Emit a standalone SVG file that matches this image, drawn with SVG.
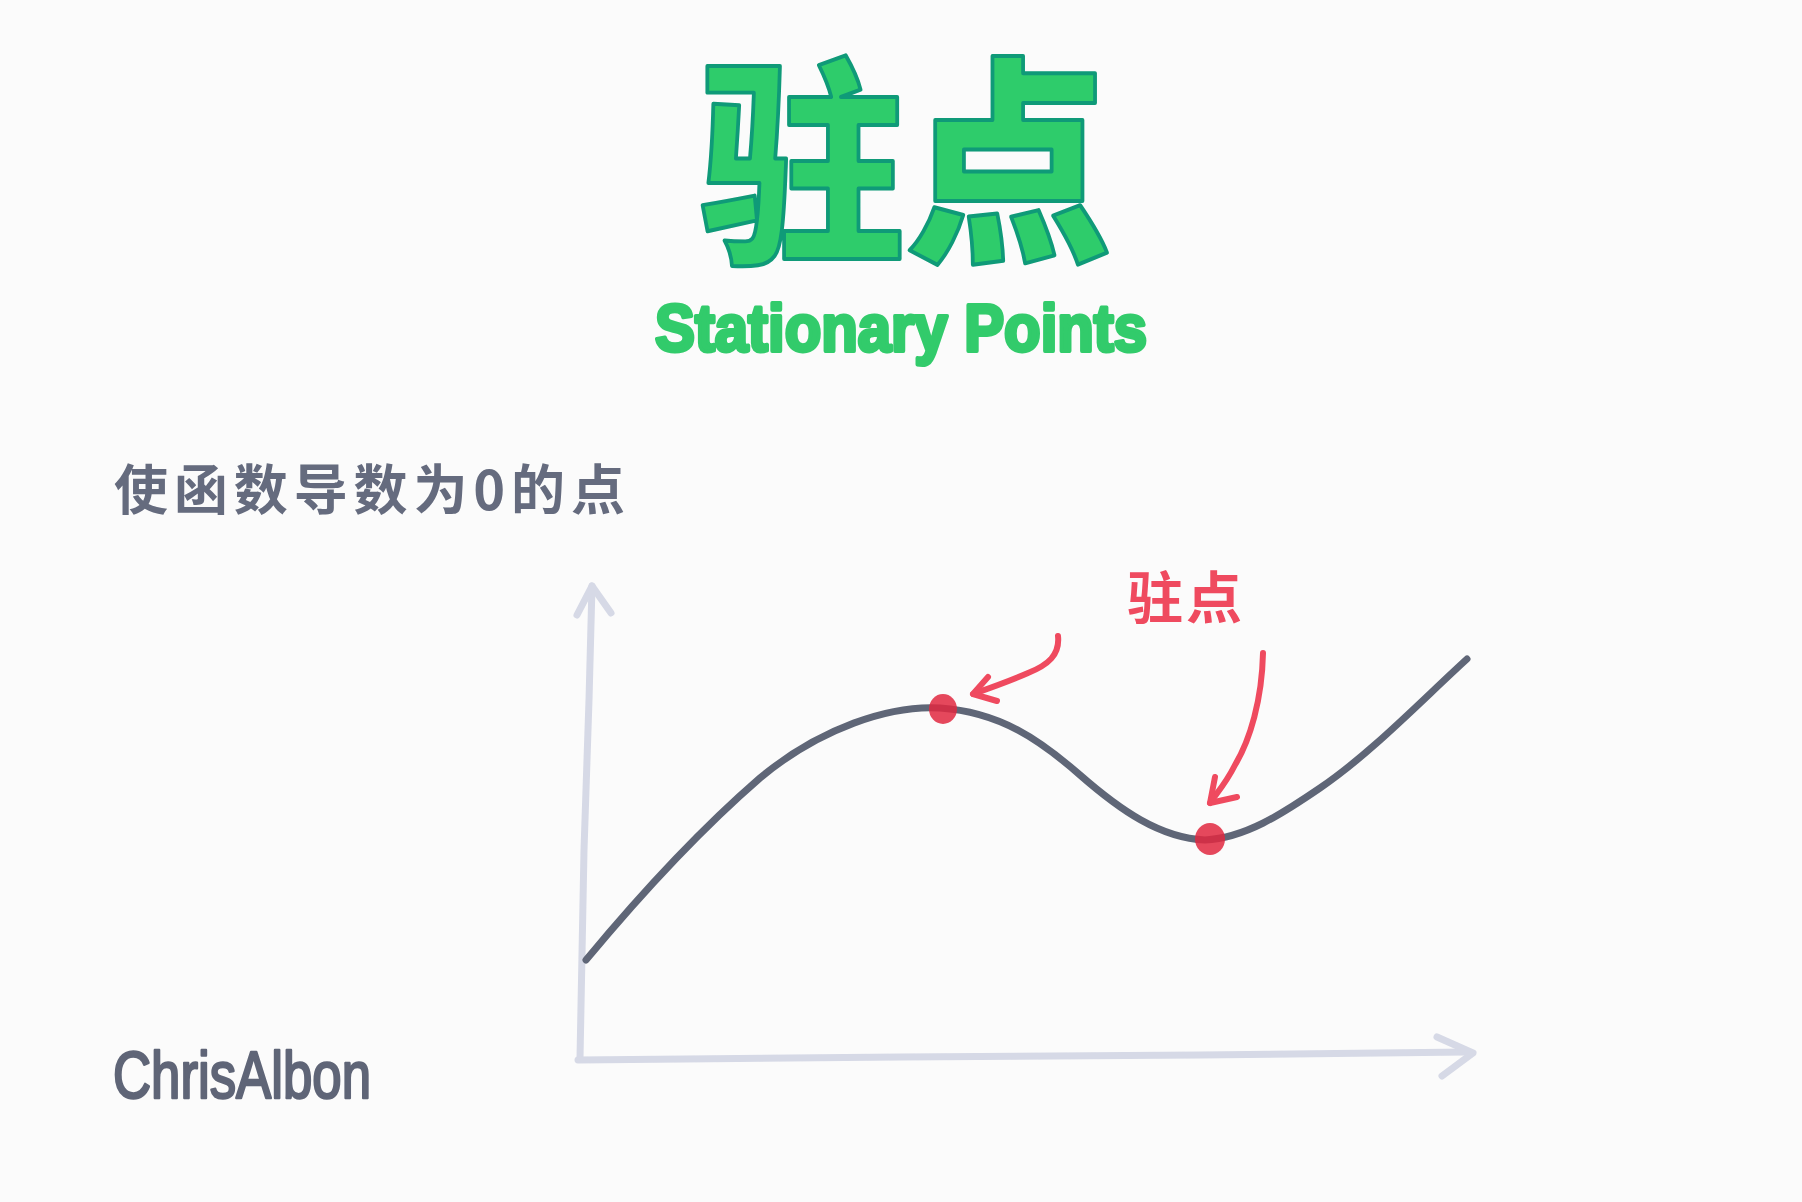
<svg xmlns="http://www.w3.org/2000/svg" width="1802" height="1202" viewBox="0 0 1802 1202">
<style>
.title{font-family:"Liberation Sans","Noto Sans CJK SC",sans-serif;font-weight:900;fill:#2ecc6b;stroke:#0f9a78;stroke-width:4;stroke-linejoin:round}
.sub{font-family:"Liberation Sans",Arial,sans-serif;font-weight:bold;fill:#32cb6b;stroke:#32cb6b;stroke-width:4;stroke-linejoin:round}
.desc{font-family:"Noto Sans CJK SC",sans-serif;font-weight:bold;fill:#656b7e}
.red{font-family:"Noto Sans CJK SC",sans-serif;font-weight:bold;fill:#ef4a5f}
.sig{font-family:"Liberation Sans",Arial,sans-serif;fill:#5f6577;stroke:#5f6577;stroke-width:2.5;stroke-linejoin:round}
.axis{fill:none;stroke:#d6d9e6;stroke-width:7;stroke-linecap:round;stroke-linejoin:round}
.curve{fill:none;stroke:#5f6677;stroke-width:7;stroke-linecap:round;stroke-linejoin:round}
.arrow{fill:none;stroke:#ef4a5f;stroke-width:6;stroke-linecap:round;stroke-linejoin:round}
.dot{fill:#e0283f;opacity:0.85}
</style>
<rect width="1802" height="1202" fill="#fbfbfb"/>
<g id="title"><text class="title" transform="translate(905,245) scale(0.94,1)" x="0" y="0" font-size="220" text-anchor="middle">驻点</text></g>
<g id="subtitle"><text class="sub" x="655" y="351" font-size="66" textLength="492" lengthAdjust="spacingAndGlyphs">Stationary Points</text></g>
<g id="description"><text class="desc" x="114" y="510" font-size="54" textLength="511" lengthAdjust="spacing">使函数导数为0的点</text></g>
<g id="label"><text class="red" x="1127" y="618" font-size="56" textLength="115" lengthAdjust="spacing">驻点</text></g>
<g id="signature"><text class="sig" x="113" y="1098" font-size="66" textLength="258" lengthAdjust="spacingAndGlyphs">ChrisAlbon</text></g>
<g id="axes">
<path class="axis" d="M592,586 L589,700 L584,850 L580,1058"/>
<path class="axis" d="M577,615 L592,586 L611,613"/>
<path class="axis" d="M578,1060 L900,1057 L1200,1055 L1467,1052"/>
<path class="axis" d="M1437,1037 L1473,1053 L1442,1076"/>
</g>
<g id="curve">
<path class="curve" d="M586,960 C640,895 700,830 760,778 C820,728 890,705 940,708 C1000,712 1040,740 1080,775 C1120,810 1160,838 1205,840 C1245,838 1282,814 1320,788 C1370,754 1420,702 1467,659"/>
</g>
<g id="points">
<ellipse class="dot" cx="943" cy="709" rx="14" ry="15"/>
<ellipse class="dot" cx="1210" cy="839" rx="15" ry="16"/>
</g>
<g id="connectors">
<path class="arrow" d="M1058,636 C1060,655 1048,665 1028,673 C1010,681 990,688 973,694"/>
<path class="arrow" d="M988,677 L973,694 L997,701"/>
<path class="arrow" d="M1263,653 C1262,700 1250,740 1235,765 C1225,785 1215,795 1210,803"/>
<path class="arrow" d="M1215,777 L1210,803 L1237,797"/>
</g>
</svg>
